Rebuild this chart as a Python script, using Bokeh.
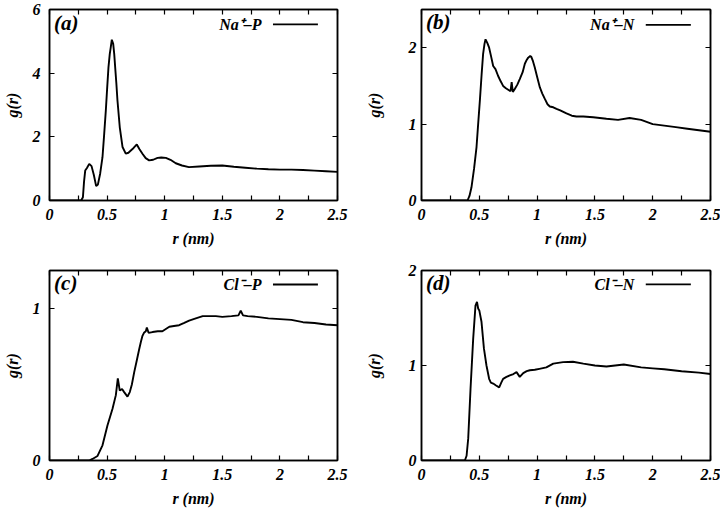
from bokeh.plotting import figure
from bokeh.layouts import column, row
from bokeh.models import Range1d, LinearAxis, FixedTicker, NumeralTickFormatter, Label, Arrow, CustomJSTickFormatter
from bokeh.embed import file_html
from bokeh.resources import INLINE

# ---------------- data ----------------
r_na_p = [0, 0.275, 0.29, 0.30, 0.31, 0.325, 0.345, 0.365, 0.385, 0.405, 0.42, 0.44, 0.46, 0.475,
          0.489, 0.50, 0.512, 0.523, 0.532, 0.541, 0.553, 0.562, 0.57, 0.58, 0.59, 0.61, 0.634, 0.662,
          0.685, 0.706, 0.73, 0.758, 0.78, 0.807, 0.835, 0.865, 0.9, 0.938, 0.97, 1.01, 1.05, 1.096,
          1.15, 1.21, 1.3, 1.4, 1.5, 1.6, 1.7, 1.8, 1.9, 2.0, 2.1, 2.2, 2.3, 2.4, 2.5]
g_na_p = [0, 0, 0.1, 0.6, 0.94, 1.02, 1.15, 1.08, 0.8, 0.45, 0.5, 0.85, 1.36, 2.1,
          2.83, 3.5, 4.19, 4.6, 4.82, 5.05, 4.92, 4.6, 4.19, 3.7, 3.14, 2.3, 1.68, 1.47,
          1.5, 1.57, 1.65, 1.76, 1.62, 1.47, 1.33, 1.26, 1.28, 1.34, 1.35, 1.34, 1.28, 1.17,
          1.1, 1.05, 1.07, 1.09, 1.1, 1.06, 1.03, 1.0, 0.98, 0.97, 0.97, 0.96, 0.94, 0.92, 0.9]

r_na_n = [0, 0.398, 0.415, 0.432, 0.455, 0.476, 0.49, 0.505, 0.52, 0.533, 0.545, 0.554, 0.57, 0.585,
          0.6, 0.62, 0.64, 0.663, 0.685, 0.706, 0.73, 0.75, 0.77, 0.78, 0.79, 0.807, 0.83, 0.85,
          0.875, 0.894, 0.91, 0.923, 0.94, 0.95, 0.965, 0.98, 1.0, 1.024, 1.045, 1.067, 1.09, 1.11,
          1.14, 1.168, 1.2, 1.254, 1.3, 1.34, 1.4, 1.485, 1.6, 1.7, 1.8, 1.9, 2.0, 2.1, 2.2, 2.3,
          2.4, 2.5]
g_na_n = [0, 0, 0.06, 0.17, 0.42, 0.70, 1.0, 1.31, 1.65, 1.92, 2.05, 2.11, 2.06, 2.0,
          1.9, 1.76, 1.72, 1.63, 1.56, 1.50, 1.47, 1.45, 1.43, 1.55, 1.42, 1.46, 1.52, 1.59,
          1.68, 1.79, 1.84, 1.87, 1.89, 1.88, 1.82, 1.74, 1.62, 1.48, 1.40, 1.33, 1.26, 1.23,
          1.22, 1.20, 1.18, 1.14, 1.11, 1.10, 1.10, 1.09, 1.07, 1.055, 1.08, 1.055, 1.0, 0.98,
          0.96, 0.94, 0.92, 0.9]

r_cl_p = [0, 0.344, 0.373, 0.417, 0.46, 0.503, 0.547, 0.576, 0.593, 0.61, 0.63, 0.648, 0.677, 0.697,
          0.715, 0.735, 0.758, 0.778, 0.793, 0.807, 0.82, 0.836, 0.845, 0.86, 0.894, 0.94, 0.98, 1.04,
          1.08, 1.125, 1.17, 1.212, 1.27, 1.33, 1.39, 1.444, 1.5, 1.58, 1.64, 1.66, 1.68, 1.72, 1.8,
          1.9, 2.0, 2.1, 2.2, 2.3, 2.4, 2.5]
g_cl_p = [0, 0, 0.01, 0.03, 0.1, 0.23, 0.34, 0.43, 0.54, 0.46, 0.47, 0.45, 0.42, 0.45,
          0.5, 0.58, 0.66, 0.73, 0.78, 0.82, 0.84, 0.85, 0.875, 0.84, 0.845, 0.85, 0.85, 0.88,
          0.885, 0.89, 0.905, 0.92, 0.935, 0.95, 0.95, 0.95, 0.945, 0.95, 0.955, 0.985, 0.955, 0.95,
          0.945, 0.935, 0.93, 0.925, 0.91, 0.905, 0.895, 0.89]

r_cl_n = [0, 0.375, 0.39, 0.404, 0.424, 0.447, 0.467, 0.48, 0.49, 0.5, 0.519, 0.54, 0.562, 0.585,
          0.6, 0.62, 0.645, 0.672, 0.69, 0.706, 0.735, 0.764, 0.795, 0.822, 0.85, 0.88, 0.91, 0.937,
          0.98, 1.02, 1.08, 1.14, 1.225, 1.31, 1.4, 1.5, 1.6, 1.75, 1.9, 2.0, 2.1, 2.25, 2.4, 2.5]
g_cl_n = [0, 0, 0.05, 0.23, 0.75, 1.28, 1.63, 1.67, 1.6, 1.58, 1.46, 1.18, 1.0, 0.86,
          0.82, 0.81, 0.79, 0.77, 0.82, 0.86, 0.88, 0.895, 0.91, 0.93, 0.88, 0.92, 0.94, 0.95,
          0.955, 0.965, 0.98, 1.02, 1.035, 1.04, 1.02, 1.0, 0.99, 1.01, 0.98, 0.97, 0.96, 0.94,
          0.925, 0.91]

x_ticks = [0, 0.5, 1, 1.5, 2, 2.5]
x_minor = [0.25, 0.75, 1.25, 1.75, 2.25]
panel_tags = ["(a)", "(b)", "(c)", "(d)"]
legend_names = ["Na\u207a\u2013P", "Na\u207a\u2013N", "Cl\u207b\u2013P", "Cl\u207b\u2013N"]
y_max = [6, 2.5, 1.25, 2]
y_ticks = [[0, 2, 4, 6], [0, 1, 2], [0, 1], [0, 1, 2]]

FONT = "Liberation Serif"
STYLE = "bold italic"


def make_panel(r, g, idx, left, right, top, bottom, fw, fh, ytick_sd, ylab_sd, tag_y, leg_y):
    ymax = y_max[idx]
    p = figure(frame_width=fw, frame_height=fh,
               min_border_left=left, min_border_right=right,
               min_border_top=top, min_border_bottom=bottom,
               x_range=Range1d(0, 2.5), y_range=Range1d(0, ymax),
               output_backend="svg", toolbar_location=None,
               x_axis_label="r (nm)", y_axis_label="g(r)")
    p.grid.visible = False
    p.outline_line_color = "black"
    p.outline_line_width = 1.5
    p.background_fill_color = "white"
    p.border_fill_color = "white"

    xt = FixedTicker(ticks=x_ticks, minor_ticks=x_minor)
    yt = FixedTicker(ticks=y_ticks[idx], minor_ticks=[])
    fmt = NumeralTickFormatter(format="0.[0]")
    blank = CustomJSTickFormatter(code="return ''")

    for ax, tk in ((p.xaxis[0], xt), (p.yaxis[0], yt)):
        ax.ticker = tk
        ax.formatter = fmt
        ax.axis_line_color = "black"
        ax.axis_line_width = 1.5
        ax.major_tick_in = 5
        ax.major_tick_out = 0
        ax.minor_tick_in = 5
        ax.minor_tick_out = 0
        ax.major_tick_line_width = 1.2
        ax.minor_tick_line_width = 1.2
        ax.major_label_text_font = FONT
        ax.major_label_text_font_style = STYLE
        ax.major_label_text_font_size = "16px"
        ax.major_label_text_color = "black"
        ax.axis_label_text_font = FONT
        ax.axis_label_text_font_style = STYLE
        ax.axis_label_text_font_size = "16px"
        ax.axis_label_text_color = "black"
    p.xaxis[0].major_label_standoff = 8
    p.xaxis[0].axis_label_standoff = 7
    p.yaxis[0].major_label_standoff = ytick_sd
    p.yaxis[0].axis_label_standoff = ylab_sd

    for loc, tk in (("above", xt), ("right", yt)):
        ax = LinearAxis(ticker=tk, formatter=blank,
                        major_label_standoff=0,
                        major_tick_in=5, major_tick_out=0,
                        minor_tick_in=5, minor_tick_out=0,
                        major_tick_line_width=1.2, minor_tick_line_width=1.2,
                        axis_line_color="black", axis_line_width=1.5)
        p.add_layout(ax, loc)

    p.line(r, g, line_color="black", line_width=1.9)

    p.add_layout(Label(x=0.04, y=tag_y, text=panel_tags[idx], text_font=FONT,
                       text_font_style=STYLE, text_font_size="21px",
                       text_baseline="middle", text_align="left", text_color="black"))
    p.add_layout(Label(x=1.84, y=leg_y, text=legend_names[idx], text_font=FONT,
                       text_font_style=STYLE, text_font_size="16px",
                       text_baseline="middle", text_align="right", text_color="black"))
    p.add_layout(Arrow(x_start=1.94, y_start=leg_y, x_end=2.33, y_end=leg_y,
                       start=None, end=None, line_color="black", line_width=1.8))
    return p


pa = make_panel(r_na_p, g_na_p, 0, 47, 25, 9, 56, 288, 191, 9, 9, 5.57, 5.53)
pb = make_panel(r_na_n, g_na_n, 1, 58, 13, 9, 56, 289, 191, 5, 23, 2.33, 2.30)
pc = make_panel(r_cl_p, g_cl_p, 2, 47, 25, 14, 53, 288, 190, 9, 9, 1.17, 1.158)
pd = make_panel(r_cl_n, g_cl_n, 3, 58, 13, 14, 53, 289, 190, 5, 23, 1.87, 1.853)

layout = column(row(pa, pb), row(pc, pd))

open("out.html", "w").write(file_html(layout, INLINE))
